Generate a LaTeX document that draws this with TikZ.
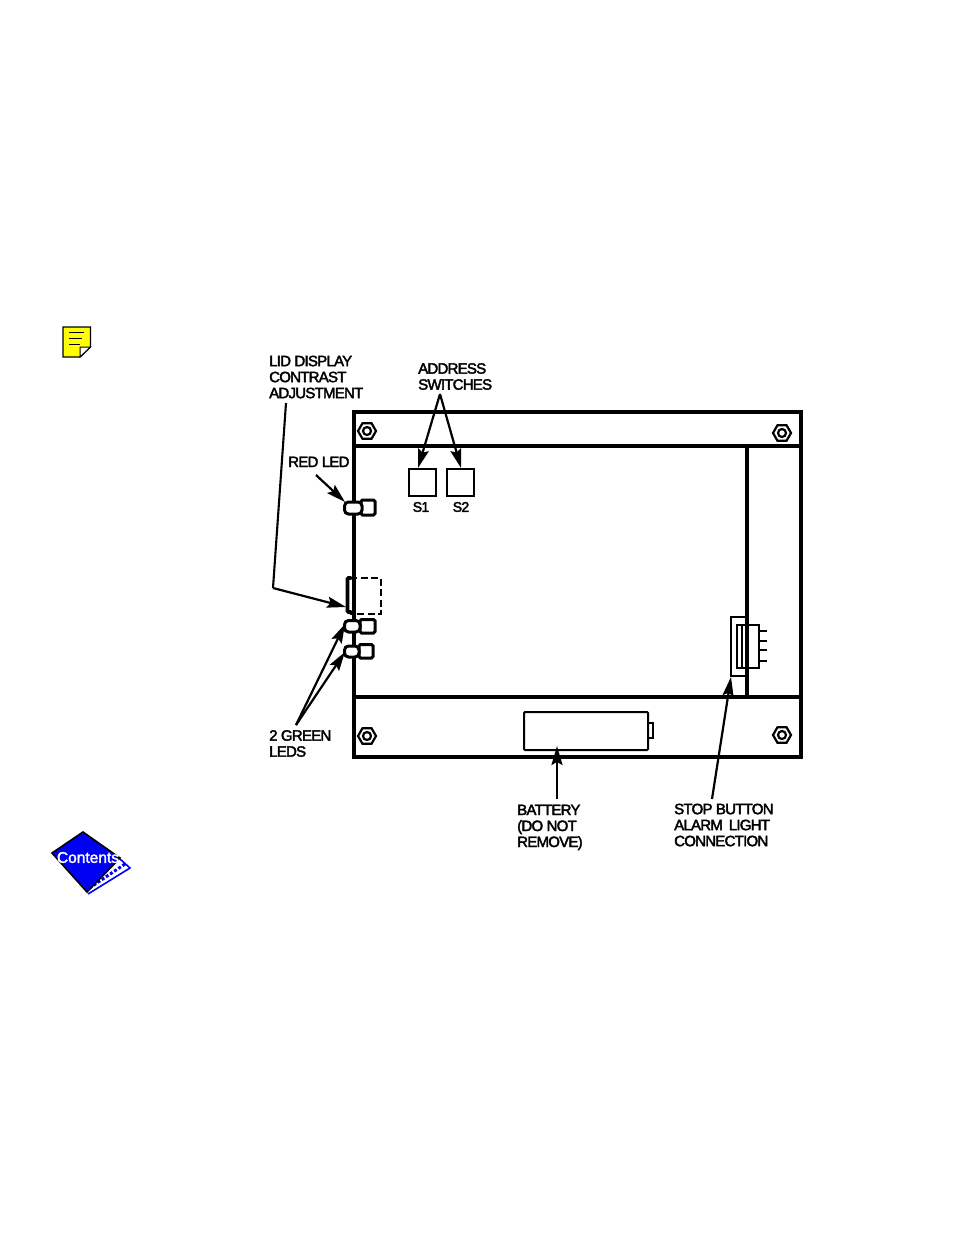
\documentclass[tikz,border=0pt]{standalone}
\usepackage{fontspec}
\usetikzlibrary{arrows.meta,shapes.geometric}
\newfontfamily\lblfont[LetterSpace=-5,FakeBold=2.6]{Liberation Sans}
\newfontfamily\iconfont[FakeBold=2]{Liberation Sans}
\definecolor{noteyellow}{RGB}{255,255,0}
\definecolor{iconblue}{RGB}{0,0,245}
\tikzset{
  board/.style={line width=3.05pt,draw=black},
  partline/.style={line width=3.05pt,draw=black},
  lbl/.style={font=\lblfont\fontsize{15}{16}\selectfont,align=left,anchor=north west,inner sep=0pt,text=black},
  smalllbl/.style={font=\lblfont\fontsize{14}{15}\selectfont,inner sep=0pt,text=black},
  pointer/.style={line width=2.2pt,draw=black,-{Stealth[length=19pt,width=11pt,inset=3pt]}},
  leader/.style={line width=2.1pt,draw=black},
  switchbox/.style={draw=black,line width=2pt,minimum width=27pt,minimum height=27pt,inner sep=0pt},
  nutnode/.style={regular polygon,regular polygon sides=6,draw=black,line width=2.2pt,minimum size=18pt,inner sep=0pt},
  ledbase/.style={draw=black,line width=3pt,rounded corners=1.5pt},
  ledcap/.style={draw=black,fill=white,line width=3pt,rounded corners=4pt},
}
\newcommand{\nutat}[2]{%
  \node[nutnode] (#1) at (#2) {};
  \node[circle,draw=black,line width=2.2pt,minimum size=8pt,inner sep=0pt] (#1c) at (#2) {};
}
\begin{document}
\begin{tikzpicture}[x=1pt,y=-1pt]
\useasboundingbox (0,0) rectangle (954,1235);
% board
\draw[board] (354,412) rectangle (801,757);
\draw[board] (354,446) -- (801,446);
\draw[board] (354,697) -- (801,697);
\draw[partline] (747,446) -- (747,697);
\nutat{nutA}{367,431}
\nutat{nutB}{782,433}
\nutat{nutC}{367,736}
\nutat{nutD}{782,735}
% switches
\node[switchbox] (sA) at (422.5,482) {};
\node[switchbox] (sB) at (460.5,482) {};
\node[smalllbl] (sAl) at (421,507) {S1};
\node[smalllbl] (sBl) at (461,507) {S2};
% LEDs
\draw[ledbase,fill=white] (361,500) rectangle (375,515);
\draw[ledcap] (344.5,502) rectangle (362,514);
\coordinate (ledR) at (345,502);
\draw[ledbase,fill=white] (360,619.5) rectangle (375,633);
\draw[ledcap] (344.5,620.5) rectangle (360,632);
\coordinate (ledG) at (345,624);
\draw[ledbase,fill=white] (359,644.5) rectangle (373,658);
\draw[ledcap] (344.5,646) rectangle (359,657);
\coordinate (ledH) at (345,652);
% contrast pot
\draw[line width=2.2pt,dashed,dash pattern=on 7pt off 3.5pt] (350,578) -- (381,578) -- (381,614) -- (350,614);
\draw[line width=3.8pt,line cap=round,rounded corners=1pt] (351,578) -- (347.5,578) -- (347.5,612) -- (351,612);
\coordinate (potL) at (346,607);
% battery
\draw[line width=2pt,rounded corners=1pt] (524,712) rectangle (648,750);
\draw[line width=2pt] (648,723) -- (653,723) -- (653,738) -- (648,738);
\coordinate (batT) at (557,746);
% connector
\draw[line width=2.2pt] (731,617) rectangle (747,676);
\draw[line width=2.2pt] (737,625) rectangle (759,668);
\draw[line width=2.2pt] (742,625) -- (742,668);
\foreach \yy in {631,641,650,661} \draw[line width=2pt] (759,\yy) -- (767,\yy);
\coordinate (conB) at (731,677);
% labels
\node[lbl] (lid) at (269,355.5) {LID DISPLAY\\CONTRAST\\ADJUSTMENT};
\node[lbl] (addr) at (418,363) {ADDRESS\\SWITCHES};
\node[lbl] (red) at (288,456.5) {RED LED};
\node[lbl] (green) at (269,730) {2 GREEN\\LEDS};
\node[lbl] (bat) at (517,804.5) {BATTERY\\(DO NOT\\REMOVE)};
\node[lbl] (stop) at (674,803.5) {STOP BUTTON\\ALARM\, LIGHT\\CONNECTION};
% connectors
\coordinate (lidA) at (286,403);
\coordinate (lidB) at (273,588);
\draw[leader] (lidA) -- (lidB);
\draw[pointer] (lidB) -- (potL);
\coordinate (addrA) at (440,394);
\draw[pointer] (addrA) -- (418,468);
\draw[pointer] (addrA) -- (461,468);
\coordinate (redA) at (316,475);
\draw[pointer] (redA) -- (ledR);
\coordinate (grnA) at (296,725);
\draw[pointer] (grnA) -- (ledG);
\draw[pointer] (grnA) -- (ledH);
\coordinate (batA) at (557,799);
\draw[pointer] (batA) -- (batT);
\coordinate (stopA) at (712,799);
\draw[pointer] (stopA) -- (conB);
% note icon
\draw[fill=noteyellow,draw=black,line width=1.3pt] (63,327) -- (90.5,327) -- (90.5,347) -- (80,357) -- (63,357) -- cycle;
\draw[fill=white,draw=black,line width=1pt] (90.5,347) -- (80,347) -- (80,357) -- cycle;
\foreach \yy/\xx in {332/84,338/82,344.5/80} \draw[line width=1pt] (69,\yy) -- (\xx,\yy);
% contents icon
\draw[iconblue,line width=1.6pt] (120,859) -- (130,868) -- (88,894);
\draw[iconblue,line width=3pt,dash pattern=on 3pt off 2pt] (125,864) -- (88,889);
\draw[fill=iconblue,draw=black,line width=1.6pt] (83,832) -- (120,858) -- (87,892) -- (52,853) -- cycle;
\node[font=\iconfont\fontsize{15.5}{16}\selectfont,text=white,inner sep=0pt] (cont) at (88,857.5) {Contents};
\end{tikzpicture}
\end{document}
